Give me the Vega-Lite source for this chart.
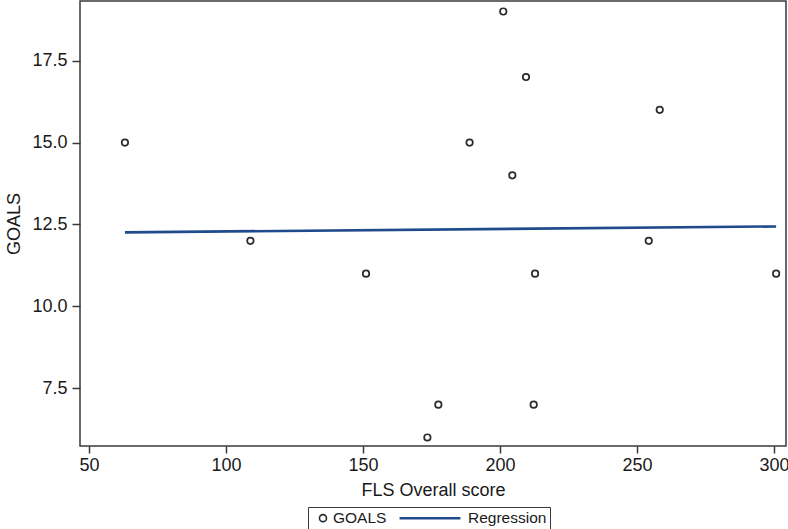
{
  "$schema": "https://vega.github.io/schema/vega-lite/v6.json",
  "width": 706,
  "height": 445,
  "autosize": {"type": "none"},
  "padding": {"left": 80, "top": 1, "right": 2, "bottom": 83},
  "background": "white",
  "config": {
    "font": "Liberation Sans",
    "view": {"stroke": "#3a3a3a", "strokeWidth": 1.5},
    "axis": {
      "grid": false,
      "domain": false,
      "tickColor": "#3a3a3a",
      "tickWidth": 1.5,
      "labelColor": "#1a1a1a",
      "titleColor": "#1a1a1a",
      "labelFontSize": 18,
      "titleFontSize": 18,
      "titleFontWeight": "normal",
      "labelFont": "Liberation Sans",
      "titleFont": "Liberation Sans"
    },
    "legend": {
      "orient": "none",
      "legendX": 228,
      "legendY": 506,
      "direction": "horizontal",
      "padding": 3,
      "strokeColor": "#3a3a3a",
      "fillColor": "white",
      "labelFontSize": 15.5,
      "labelColor": "#1a1a1a",
      "labelFont": "Liberation Sans",
      "columnPadding": 7,
      "symbolSize": 49
    }
  },
  "datasets": {
    "pts": [
      {"fls": 63.1, "goals": 15},
      {"fls": 108.9, "goals": 12},
      {"fls": 151.1, "goals": 11},
      {"fls": 173.5, "goals": 6},
      {"fls": 177.5, "goals": 7},
      {"fls": 188.9, "goals": 15},
      {"fls": 201.2, "goals": 19},
      {"fls": 204.5, "goals": 14},
      {"fls": 209.5, "goals": 17},
      {"fls": 212.3, "goals": 7},
      {"fls": 212.8, "goals": 11},
      {"fls": 254.3, "goals": 12},
      {"fls": 258.3, "goals": 16},
      {"fls": 300.8, "goals": 11}
    ],
    "reg": [
      {"fls": 63.1, "goals": 12.26},
      {"fls": 300.8, "goals": 12.44}
    ]
  },
  "layer": [
    {
      "data": {"name": "pts"},
      "mark": {"type": "point", "filled": false, "strokeWidth": 1.7, "size": 42, "opacity": 1},
      "encoding": {
        "x": {
          "field": "fls", "type": "quantitative",
          "scale": {"domain": [46.7, 304.4], "nice": false, "zero": false},
          "axis": {"values": [50, 100, 150, 200, 250, 300], "tickSize": 7, "labelPadding": 3, "title": "FLS Overall score", "titlePadding": 7}
        },
        "y": {
          "field": "goals", "type": "quantitative",
          "scale": {"domain": [5.74, 19.32], "nice": false, "zero": false},
          "axis": {"values": [7.5, 10, 12.5, 15, 17.5], "format": ".1f", "tickSize": 8, "labelPadding": 5, "title": "GOALS", "titlePadding": 8}
        },
        "color": {
          "datum": "GOALS", "type": "nominal",
          "scale": {"domain": ["GOALS", "Regression"], "range": ["#2a2a2a", "#1f4a8c"]},
          "legend": {
            "title": null,
            "encode": {
              "symbols": {
                "update": {
                  "shape": {"signal": "datum.value === 'Regression' ? 'M-8.7,0H8.7' : 'circle'"},
                  "strokeWidth": {"signal": "datum.value === 'Regression' ? 2.5 : 1.6"},
                  "fill": {"value": "transparent"},
                  "x": {"signal": "datum.value === 'Regression' ? 31 : 12"},
                  "opacity": {"value": 1}
                }
              },
              "labels": {
                "update": {
                  "x": {"signal": "datum.value === 'Regression' ? 69 : 22"}
                }
              }
            }
          }
        }
      }
    },
    {
      "data": {"name": "reg"},
      "mark": {"type": "line", "strokeWidth": 2.6},
      "encoding": {
        "x": {"field": "fls", "type": "quantitative"},
        "y": {"field": "goals", "type": "quantitative"},
        "color": {
          "datum": "Regression", "type": "nominal",
          "legend": {
            "title": null,
            "encode": {
              "symbols": {
                "update": {
                  "shape": {"signal": "datum.value === 'Regression' ? 'M-8.7,0H8.7' : 'circle'"},
                  "strokeWidth": {"signal": "datum.value === 'Regression' ? 2.5 : 1.6"},
                  "fill": {"value": "transparent"},
                  "x": {"signal": "datum.value === 'Regression' ? 31 : 12"},
                  "opacity": {"value": 1}
                }
              },
              "labels": {
                "update": {
                  "x": {"signal": "datum.value === 'Regression' ? 69 : 22"}
                }
              }
            }
          }
        }
      }
    }
  ]
}
